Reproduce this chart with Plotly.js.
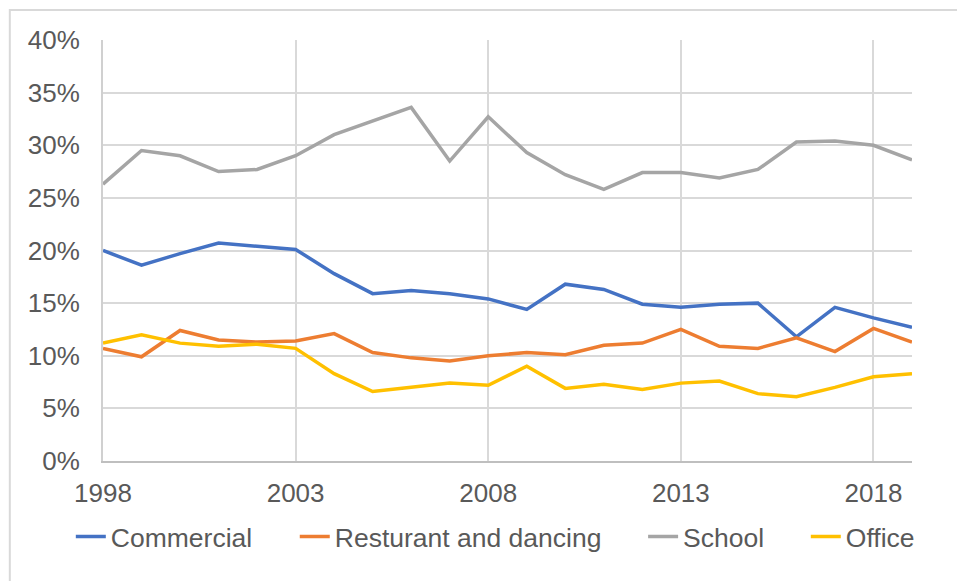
<!DOCTYPE html>
<html>
<head>
<meta charset="utf-8">
<script src="https://cdn.plot.ly/plotly-3.0.1.min.js"></script>
<style>
html,body{margin:0;padding:0;background:#fff;overflow:hidden;}
#chart{width:957px;height:581px;}
</style>
</head>
<body>
<div id="chart"></div>
<script>
const years = [1998,1999,2000,2001,2002,2003,2004,2005,2006,2007,2008,2009,2010,2011,2012,2013,2014,2015,2016,2017,2018,2019];
const commercial = [20.0,18.6,19.7,20.7,20.4,20.1,17.8,15.9,16.2,15.9,15.4,14.4,16.8,16.3,14.9,14.6,14.9,15.0,11.8,14.6,13.6,12.7];
const restaurant = [10.7,9.9,12.4,11.5,11.3,11.4,12.1,10.3,9.8,9.5,10.0,10.3,10.1,11.0,11.2,12.5,10.9,10.7,11.7,10.4,12.6,11.3];
const school = [26.3,29.5,29.0,27.5,27.7,29.0,31.0,32.3,33.6,28.5,32.7,29.3,27.2,25.8,27.4,27.4,26.9,27.7,30.3,30.4,30.0,28.6];
const office = [11.2,12.0,11.2,10.9,11.1,10.7,8.3,6.6,7.0,7.4,7.2,9.0,6.9,7.3,6.8,7.4,7.6,6.4,6.1,7.0,8.0,8.3];
const seriesNames = ["Commercial","Resturant and dancing","School","Office"];
const seriesColors = ["#4472C4","#ED7D31","#A5A5A5","#FFC000"];
const xTicks = [1998,2003,2008,2013,2018];
const yTicks = [0,5,10,15,20,25,30,35,40];

const legendIds = ['legend','legend2','legend3','legend4'];
const legendX = [0.074, 0.308, 0.672, 0.842];

const allSeries = [commercial, restaurant, school, office];
const traces = allSeries.map((vals,i)=>({
  x: years, y: vals, type:'scatter', mode:'lines', name: seriesNames[i],
  line:{color: seriesColors[i], width:3.5},
  legend: legendIds[i],
  hoverinfo:'skip'
}));

const font = {family:'"Liberation Sans", Arial, Helvetica, sans-serif', size:26, color:'#595959'};
const legFont = {family:'"Liberation Sans", Arial, Helvetica, sans-serif', size:26.5, color:'#595959'};

const layout = {
  width:957, height:581,
  margin:{l:103, r:45, t:40, b:120, pad:0},
  paper_bgcolor:'#fff', plot_bgcolor:'#fff',
  font: font,
  showlegend:true,
  xaxis:{
    range:[1998,2019], tickvals:xTicks, ticktext:xTicks.map(String),
    showgrid:true, gridcolor:'#d9d9d9', gridwidth:2,
    showline:true, linecolor:'#bfbfbf', linewidth:2,
    zeroline:false, ticks:'', ticklabelstandoff:8, tickfont:font, fixedrange:true
  },
  yaxis:{
    range:[0,40], tickvals:yTicks, ticktext:yTicks.map(v=>v+'%'),
    showgrid:true, gridcolor:'#d9d9d9', gridwidth:2,
    showline:true, linecolor:'#d0d0d0', linewidth:2,
    zeroline:false, ticks:'', ticklabelstandoff:16, tickfont:font, fixedrange:true
  },
  shapes:[{type:'rect', xref:'paper', yref:'paper', x0:-0.1152, x1:1.07, y0:-0.31, y1:1.0713,
    line:{color:'#d9d9d9', width:2}, fillcolor:'rgba(0,0,0,0)', layer:'below'}]
};
legendIds.forEach((id,i)=>{
  layout[id] = {orientation:'h', xref:'container', yref:'container', x:legendX[i], xanchor:'left',
    y:0.076, yanchor:'middle', font:legFont, itemwidth:30, borderwidth:0, bgcolor:'rgba(0,0,0,0)'};
});

Plotly.newPlot('chart', traces, layout, {staticPlot:true, displayModeBar:false});
</script>
</body>
</html>
